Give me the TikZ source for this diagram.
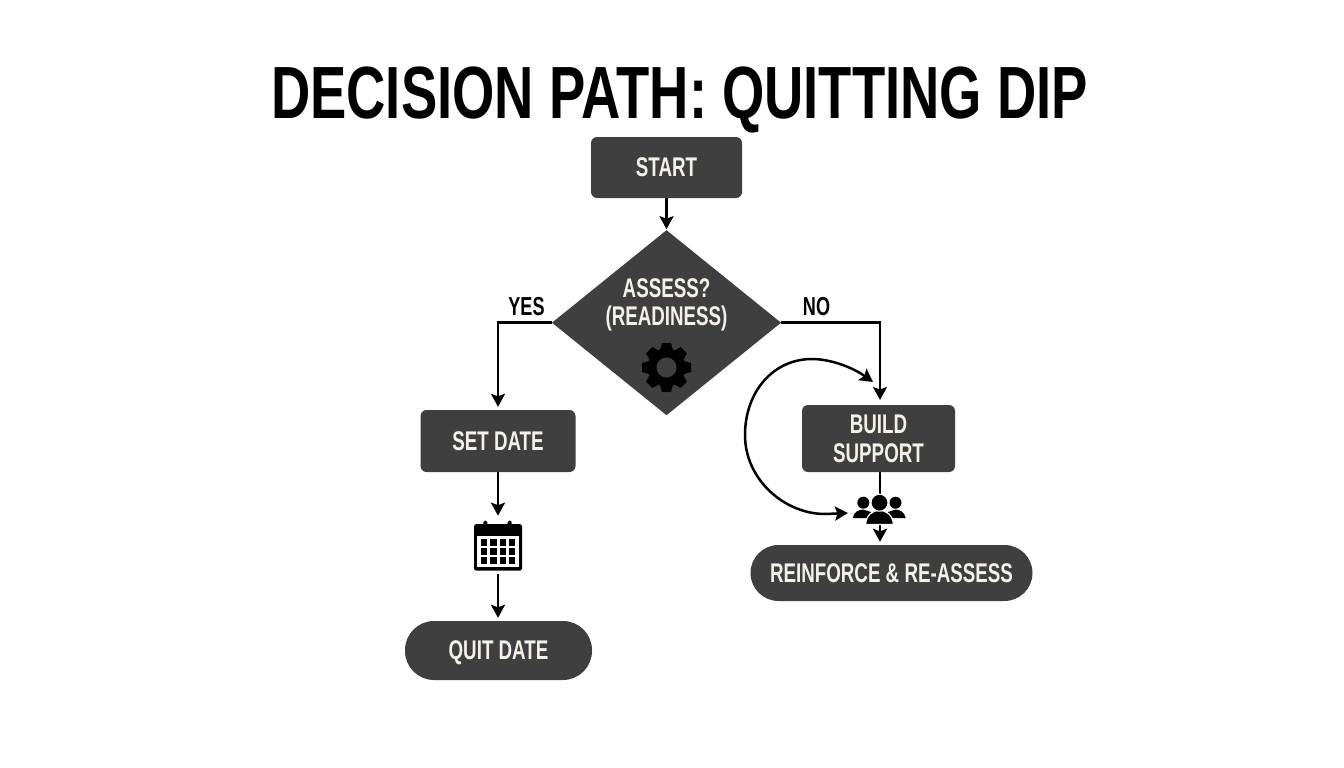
\documentclass[tikz,border=0pt]{standalone}
\usepackage{fontspec}
\usetikzlibrary{arrows.meta,shapes.geometric}
\newfontfamily\titlefont[FakeStretch=0.735]{Liberation Sans}
\newfontfamily\labelfont[FakeStretch=0.695]{Liberation Sans}
\definecolor{boxgray}{HTML}{3F3F3F}
\definecolor{boxtext}{HTML}{F5F1E9}
\tikzset{
	flowtip/.tip={Stealth[length=13pt,width=14pt,inset=2.5pt]},
	flowline/.style={line width=2.5pt,black},
	flowarrow/.style={flowline,-flowtip},
	labeltext/.style={font=\labelfont\bfseries\fontsize{27}{28.7}\selectfont,text=boxtext,align=center},
	processbox/.style={fill=boxgray,rounded corners=6pt,inner sep=0pt,text depth=0pt,labeltext},
	pillbox/.style={fill=boxgray,inner sep=0pt,text depth=0pt,labeltext},
	decisionbox/.style={diamond,fill=boxgray,inner sep=0pt,outer sep=0pt},
	icon/.style={inner sep=0pt,outer sep=0pt},
	branchtext/.style={font=\labelfont\bfseries\fontsize{26}{28}\selectfont,text=black,inner sep=0pt,anchor=base}
}
\begin{document}
\begin{tikzpicture}[x=1pt,y=-1pt]
	\useasboundingbox[fill=white] (0,0) rectangle (1344,768);
	\node[font=\titlefont\bfseries\fontsize{74}{74}\selectfont,text=black,inner sep=0pt,anchor=base] (title) at (679.5,118) {DECISION PATH: QUITTING DIP};
	\node[processbox,minimum width=151pt,minimum height=61pt] (start) at (666.5,167.5) {START};
	\node[decisionbox,minimum width=229pt,minimum height=185pt] (assess) at (666.5,322.7) {};
	\node[labeltext,inner sep=0pt] (assesstext) at (666.5,305) {ASSESS?\\(READINESS)};
	\node[processbox,minimum width=155pt,minimum height=62pt] (setdate) at (498,441) {SET DATE};
	\node[pillbox,rounded corners=29pt,minimum width=187pt,minimum height=59pt] (quitdate) at (498.5,650.5) {QUIT DATE};
	\node[processbox,minimum width=153pt,minimum height=67pt] (build) at (878.5,438.5) {BUILD\\SUPPORT};
	\node[pillbox,rounded corners=28pt,minimum width=282pt,minimum height=56pt] (reinforce) at (891.5,573) {REINFORCE \& RE-ASSESS};
	\node[icon,minimum width=48pt,minimum height=50pt] (calendar) at (498,545.7) {};
	\node[icon,minimum width=53pt,minimum height=30pt] (people) at (880,509) {};
	\node[branchtext] (yes) at (526.5,315) {YES};
	\node[branchtext] (no) at (816.5,315) {NO};
	\coordinate (buildin) at (880,405);
	\coordinate (loopout) at (873,382);
	\coordinate (loopin) at (848,513);

	\draw[flowarrow,shorten >=1pt] (start) -- (assess.north);
	\draw[flowarrow,shorten >=3pt] (assess.west) -| (setdate.north);
	\draw[flowarrow,shorten >=5pt] (assess.east) -| (buildin);
	\draw[flowarrow,shorten >=5pt] (setdate) -- (calendar.north);
	\draw[flowarrow,shorten <=3pt,shorten >=3pt] (calendar.south) -- (calendar.south |- quitdate.north);
	\draw[flowline] (build.south -| people) -- (people.north);
	\draw[flowarrow,shorten >=3pt] (people.south) -- (people.south |- reinforce.north);
	\draw[flowline,flowtip-flowtip] (loopout) .. controls (852,367) and (830,359) .. (812,359) .. controls (773,359) and (745,392) .. (745,435) .. controls (745,480) and (785,514) .. (825,514) -- (loopin);

	% gear
	\begin{scope}[shift={(666.5,367.5)}]
		\foreach \ang in {0,45,...,315}
			\fill[black,rotate=\ang] (-6.5,-17) -- (-4.5,-24.5) -- (4.5,-24.5) -- (6.5,-17) -- cycle;
		\fill[black] (0,0) circle (19pt);
		\fill[boxgray] (0,0) circle (10pt);
	\end{scope}

	% calendar
	\fill[black,rounded corners=2.5pt] (calendar.north west |- 0,524) rectangle (calendar.south east);
	\fill[white] (477,536) rectangle (519,567);
	\foreach \col in {481,490.3,499.7,509}
		\foreach \row in {539.3,548.3,557.3}
			\fill[black] (\col,\row) rectangle ++(6.3,6.2);
	\fill[black,rounded corners=1.5pt] (483.3,520.7) rectangle ++(4,6);
	\fill[black,rounded corners=1.5pt] (507.7,520.7) rectangle ++(4,6);

	% people
	\fill[black] (863.3,502.7) circle (6pt);
	\fill[black] (895.5,502.7) circle (6pt);
	\fill[black] (852.7,518) .. controls (854,512) and (858,510) .. (863,509.5) -- (871,512) -- (870,518) -- cycle;
	\fill[black] (905.7,518) .. controls (904.4,512) and (900.4,510) .. (895.4,509.5) -- (888,512) -- (889,518) -- cycle;
	\fill[black,draw=white,line width=1.2pt] (865.5,524.5) .. controls (866.5,515) and (872,510.5) .. (879.5,510.5) .. controls (887,510.5) and (892.5,515) .. (893.5,524.5) -- cycle;
	\fill[black,draw=white,line width=1pt] (879.5,502.7) circle (8.5pt);
\end{tikzpicture}
\end{document}
